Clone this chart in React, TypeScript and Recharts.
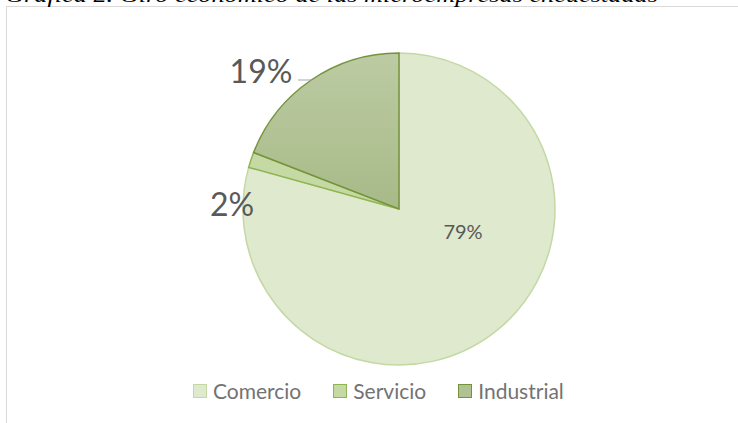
import React from 'react';
import { PieChart, Pie, Cell, Legend } from 'recharts';

// Giro económico (porcentaje de microempresas)
const categories = ['Comercio', 'Servicio', 'Industrial'];
const shares = [79.3, 1.6, 19.1];
const labels = ['79%', '2%', '19%'];

const FILLS = ['#dfe9cd', '#c5d9a5', 'url(#indGrad)'];
const LEGEND_FILLS = ['#dfe9cd', '#c5d9a5', '#b0c192'];
const STROKES = ['#c4d8a4', '#8fb452', '#76933c'];

const data = categories.map((name, i) => ({ name, value: shares[i], label: labels[i] }));

const FONT = 'Lato, "Open Sans", sans-serif';

// label placement (Excel "best fit" look), relative to the pie centre
const LABEL_OFFSETS = [
  { dx: 64, dy: 22, size: 20 },
  { dx: -167, dy: -6, size: 32 },
  { dx: -138, dy: -139, size: 32 },
];

const renderLabel = (props: any) => {
  const { cx, cy, index, outerRadius } = props;
  const o = LABEL_OFFSETS[index];
  const x = cx + o.dx;
  const y = cy + o.dy;
  let leader = null;
  if (index === 2) {
    const ly = cy - 129;
    const edge = cx - Math.sqrt(outerRadius * outerRadius - 129 * 129);
    leader = <line x1={cx - 101} y1={ly} x2={edge} y2={ly} stroke="#a6a6a6" strokeWidth={1} />;
  }
  return (
    <g>
      {leader}
      <text x={x} y={y} fill="#595959" fontSize={o.size} fontFamily={FONT} textAnchor="middle" dominantBaseline="central">
        {data[index].label}
      </text>
    </g>
  );
};

const renderLegend = () => (
  <div style={{ display: 'flex', alignItems: 'center', fontFamily: FONT, fontSize: 21, color: '#737373' }}>
    {data.map((d, i) => (
      <div key={d.name} style={{ display: 'flex', alignItems: 'center', marginRight: 32 }}>
        <span
          style={{
            display: 'inline-block',
            width: 12,
            height: 12,
            background: LEGEND_FILLS[i],
            border: `1.5px solid ${STROKES[i]}`,
            marginRight: 6,
          }}
        />
        <span>{d.name}</span>
      </div>
    ))}
  </div>
);

const App: React.FC = () => {
  return (
    <div style={{ position: 'fixed', left: 0, top: 0, width: 738, height: 423, background: '#fff', overflow: 'hidden' }}>
      <div
        style={{
          position: 'absolute',
          left: 6,
          top: 6,
          width: 760,
          height: 440,
          border: '1.5px solid #d9d9d9',
        }}
      />
      <svg width={738} height={20} style={{ position: 'absolute', left: 0, top: 0 }}>
        <text x={5} y={2} fontFamily='"Liberation Serif", serif' fontStyle="italic" fontSize={21} fill="#000" textLength={653} lengthAdjust="spacingAndGlyphs">
          Gráfica 2. Giro económico de las microempresas encuestadas
        </text>
      </svg>
      <PieChart width={738} height={423} margin={{ top: 0, right: 0, bottom: 0, left: 0 }} style={{ position: 'absolute', left: 0, top: 0 }}>
        <defs>
          <linearGradient id="indGrad" x1="0" y1="0" x2="0" y2="1">
            <stop offset="0%" stopColor="#bccba3" />
            <stop offset="100%" stopColor="#a8ba88" />
          </linearGradient>
        </defs>
        <Pie
          data={data}
          dataKey="value"
          nameKey="name"
          cx={399}
          cy={209}
          outerRadius={156}
          startAngle={90}
          endAngle={-270}
          label={renderLabel}
          labelLine={false}
          isAnimationActive={false}
        >
          {data.map((d, i) => (
            <Cell key={`cell-${i}`} fill={FILLS[i]} stroke={STROKES[i]} strokeWidth={1.5} />
          ))}
        </Pie>
        <Legend content={renderLegend} wrapperStyle={{ position: 'absolute', left: 193, top: 378, width: 520 }} />
      </PieChart>
    </div>
  );
};

export default App;
